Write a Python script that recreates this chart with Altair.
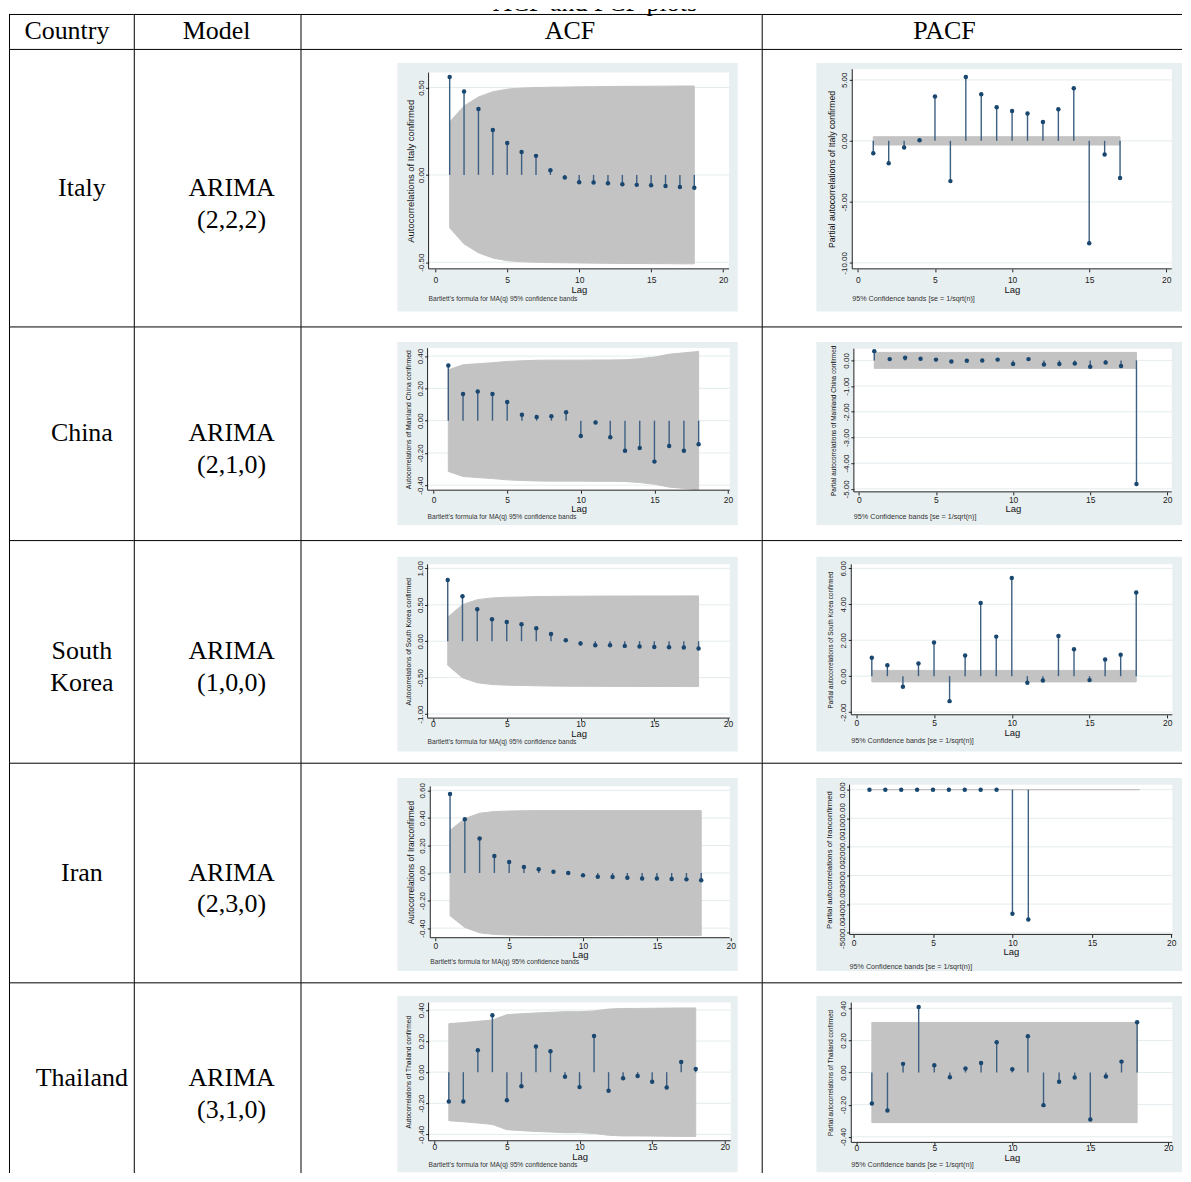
import altair as alt
import pandas as pd

# ---------------- table text ----------------
title_text = "ACF and PCF plots"
headers = ["Country", "Model", "ACF", "PACF"]
countries = ["Italy", "China", "South\nKorea", "Iran", "Thailand"]
models = ["ARIMA\n(2,2,2)", "ARIMA\n(2,1,0)", "ARIMA\n(1,0,0)", "ARIMA\n(2,3,0)", "ARIMA\n(3,1,0)"]

# ---------------- ACF data (lags 1..18) ----------------
lags = list(range(1, 19))
italy_acf = [0.56, 0.478, 0.377, 0.257, 0.183, 0.131, 0.109, 0.027, -0.015,
             -0.042, -0.044, -0.048, -0.053, -0.057, -0.059, -0.063, -0.069, -0.074]
italy_acf_band = [0.303, 0.395, 0.446, 0.476, 0.491, 0.497, 0.500, 0.502, 0.503,
                  0.504, 0.505, 0.506, 0.507, 0.507, 0.508, 0.508, 0.509, 0.509]
china_acf = [0.342, 0.165, 0.181, 0.165, 0.115, 0.037, 0.023, 0.027, 0.052,
             -0.095, -0.012, -0.103, -0.186, -0.169, -0.254, -0.157, -0.186, -0.146]
china_acf_band = [0.315, 0.346, 0.353, 0.359, 0.367, 0.371, 0.374, 0.375, 0.375,
                  0.375, 0.376, 0.376, 0.377, 0.384, 0.394, 0.412, 0.420, 0.429]
korea_acf = [0.84, 0.616, 0.438, 0.301, 0.265, 0.233, 0.178, 0.10, 0.014,
             -0.032, -0.055, -0.055, -0.064, -0.073, -0.078, -0.082, -0.087, -0.10]
korea_acf_band = [0.329, 0.502, 0.570, 0.594, 0.603, 0.607, 0.612, 0.615, 0.617,
                  0.618, 0.619, 0.620, 0.620, 0.621, 0.621, 0.621, 0.622, 0.622]
iran_acf = [0.573, 0.39, 0.25, 0.123, 0.08, 0.043, 0.027, 0.01, 0.0,
            -0.017, -0.027, -0.029, -0.034, -0.039, -0.039, -0.043, -0.046, -0.053]
iran_acf_band = [0.310, 0.395, 0.434, 0.446, 0.450, 0.452, 0.453, 0.453, 0.453,
                 0.453, 0.453, 0.453, 0.453, 0.453, 0.453, 0.453, 0.453, 0.453]
thai_acf = [-0.188, -0.188, 0.141, 0.366, -0.18, -0.09, 0.165, 0.135, -0.03,
            -0.096, 0.233, -0.12, -0.039, -0.024, -0.062, -0.098, 0.066, 0.021]
thai_acf_band = [0.312, 0.319, 0.327, 0.336, 0.370, 0.376, 0.381, 0.385, 0.389,
                 0.389, 0.394, 0.406, 0.410, 0.410, 0.411, 0.412, 0.413, 0.413]

# ---------------- PACF data ----------------
italy_pacf = [-1.01, -1.83, -0.55, 0.05, 3.63, -3.30, 5.24, 3.82, 2.75, 2.45,
              2.24, 1.55, 2.59, 4.31, -8.40, -1.12, -3.05]
china_pacf = [0.36, 0.05, 0.10, 0.06, 0.03, -0.04, -0.01, 0.0, 0.03, -0.14,
              0.05, -0.16, -0.14, -0.12, -0.25, -0.08, -0.22, -4.81]
korea_pacf = [1.02, 0.61, -0.59, 0.70, 1.87, -1.39, 1.15, 4.07, 2.20, 5.46,
              -0.37, -0.24, 2.24, 1.50, -0.22, 0.93, 1.19, 4.65]
iran_pacf = [0.0, 0.0, 0.0, 0.0, 0.0, 0.0, 0.0, 0.0, 0.0, -4337.0, -4535.0]
thai_pacf = [-0.193, -0.236, 0.054, 0.408, 0.046, -0.029, 0.025, 0.06, 0.189,
             0.021, 0.226, -0.203, -0.058, -0.031, -0.292, -0.025, 0.068, 0.313]
pacf_band_half = [0.34, 0.31, 0.32, 0.31, 0.312]
pacf_band_last = [17, 18, 18, 18, 18]

acf_values = [italy_acf, china_acf, korea_acf, iran_acf, thai_acf]
acf_bands = [italy_acf_band, china_acf_band, korea_acf_band, iran_acf_band, thai_acf_band]
pacf_values = [italy_pacf, china_pacf, korea_pacf, iran_pacf, thai_pacf]

acf_titles = ["Autocorrelations of Italy confirmed",
              "Autocorrelations of Mainland China confirmed",
              "Autocorrelations of South Korea confirmed",
              "Autocorrelations of Iranconfirmed",
              "Autocorrelations of Thailand confirmed"]
pacf_titles = ["Partial autocorrelations of Italy confirmed",
               "Partial autocorrelations of Mainland China confirmed",
               "Partial autocorrelations of South Korea confirmed",
               "Partial autocorrelations of Iranconfirmed",
               "Partial autocorrelations of Thailand confirmed"]
acf_yticks = [[-0.5, 0.0, 0.5],
              [-0.4, -0.2, 0.0, 0.2, 0.4],
              [-1.0, -0.5, 0.0, 0.5, 1.0],
              [-0.4, -0.2, 0.0, 0.2, 0.4, 0.6],
              [-0.4, -0.2, 0.0, 0.2, 0.4]]
pacf_yticks = [[-10.0, -5.0, 0.0, 5.0],
               [-5.0, -4.0, -3.0, -2.0, -1.0, 0.0],
               [-2.0, 0.0, 2.0, 4.0, 6.0],
               [-5000.0, -4000.0, -3000.0, -2000.0, -1000.0, 0.0],
               [-0.4, -0.2, 0.0, 0.2, 0.4]]
x_ticks = [0, 5, 10, 15, 20]
acf_note = "Bartlett's formula for MA(q) 95% confidence bands"
pacf_note = "95% Confidence bands [se = 1/sqrt(n)]"
lag_title = "Lag"

# ---------------- layout / style ----------------
SANS = "Liberation Sans"
SERIF = "Liberation Serif"
NAVY = "#1a476f"
STEM = "#3d5f82"
BAND = "#c3c3c3"
GRAPH_BG = "#e8eff1"
GRID = "#e4ecee"
INK = "#222222"

COLS = [8, 133, 300, 762, 1183]          # page x of column borders
ROWS = [8, 48, 326, 540, 763, 983, 1174]  # page y of row borders
HEADER_LINE = 13
header_cx = [66, 216, 570, 945]
cell_cx = [81, 231]

# per-graph geometry in page pixels (ACF, PACF for each row)
GEOM = [
    [dict(outer=(397, 738, 62, 311), plot=(428.3, 729.3, 71.7, 268.3), xmap=(435, 723.3),
          ymap=(0.5, 86.7, -0.5, 261.7), xlab=279, lag=289, foot=299, tfs=9.5, td=18.5),
     dict(outer=(816.7, 1183, 62, 311), plot=(852.7, 1172.7, 68.3, 268.3), xmap=(858.3, 1167.3),
          ymap=(5, 79, -10, 262.3), xlab=279, lag=289, foot=299, tfs=8.7, td=21)],
    [dict(outer=(397, 738, 341.7, 525), plot=(427.3, 730, 347.7, 490), xmap=(433.3, 728.3),
          ymap=(0.4, 355.7, -0.4, 485), xlab=499, lag=508.5, foot=516.5, tfs=6.9, td=19),
     dict(outer=(816.7, 1183, 341.7, 525), plot=(854.3, 1172.7, 348.3, 491.7), xmap=(859.3, 1168.3),
          ymap=(0, 360, -5, 488.7), xlab=499.5, lag=508.5, foot=516.7, tfs=6.5, td=20.5)],
    [dict(outer=(397, 738, 556.7, 751.7), plot=(427.3, 730, 564.3, 718.3), xmap=(432.7, 728.3),
          ymap=(1, 568.3, -1, 714.3), xlab=724, lag=733.5, foot=742, tfs=6.8, td=19),
     dict(outer=(816.7, 1183, 556.7, 751.7), plot=(851.7, 1173.3, 564.3, 715), xmap=(856.7, 1168.3),
          ymap=(6, 568.3, -2, 712.3), xlab=723, lag=732.5, foot=741, tfs=6.3, td=21)],
    [dict(outer=(397, 738, 778.3, 971.7), plot=(430, 730, 786.7, 938.3), xmap=(435, 731),
          ymap=(0.6, 790.7, -0.4, 928.7), xlab=946, lag=955, foot=963, tfs=8.4, td=20),
     dict(outer=(816.7, 1183, 778.3, 971.7), plot=(850, 1173.3, 785, 935), xmap=(854, 1172.3),
          ymap=(0, 790, -5000, 933.3), xlab=943.5, lag=952.5, foot=967.7, tfs=7.8, td=20)],
    [dict(outer=(397, 738, 996.7, 1173.3), plot=(428.3, 731, 1003.3, 1141.7), xmap=(434, 725),
          ymap=(0.4, 1010.7, -0.4, 1135.3), xlab=1147.5, lag=1157, foot=1165.5, tfs=6.6, td=20),
     dict(outer=(816.7, 1183, 996.7, 1173.3), plot=(851.7, 1173.3, 1003.3, 1143.3), xmap=(856.7, 1169.3),
          ymap=(0.4, 1009, -0.4, 1137.7), xlab=1148.5, lag=1158, foot=1166, tfs=6.3, td=21)],
]

MINUS_FIX = "replace(format(datum.value, '.2f'), '\u2212', '-')"


def one():
    return alt.Data(values=[{"k": 0}])


def borders(W, H, top):
    t = alt.Chart(one()).mark_rule(color="black", strokeWidth=1).encode(
        x=alt.value(0), x2=alt.value(W), y=alt.value(top))
    l = alt.Chart(one()).mark_rule(color="black", strokeWidth=1).encode(
        x=alt.value(0.5), y=alt.value(top - 0.5), y2=alt.value(H))
    return [t, l]


def header_cell(ci):
    x0, x1 = COLS[ci], COLS[ci + 1]
    y0, y1 = ROWS[0], ROWS[1]
    W, H = x1 - x0, y1 - y0
    layers = borders(W, H, HEADER_LINE - y0 + 0.5)
    df = pd.DataFrame({"label": [headers[ci]]})
    layers.append(alt.Chart(df).mark_text(font=SERIF, fontSize=26, align="center",
                                          baseline="alphabetic", color="black").encode(
        x=alt.value(header_cx[ci] - x0), y=alt.value(38 - y0), text="label:N"))
    if ci == 2:
        tdf = pd.DataFrame({"label": [title_text]})
        layers.append(alt.Chart(tdf).mark_text(font=SERIF, fontSize=26, align="center",
                                               baseline="alphabetic", color="black", clip=True).encode(
            x=alt.value(595 - x0), y=alt.value(2), text="label:N"))
    return alt.layer(*layers).properties(width=W, height=H)


def text_cell(ri, ci, label):
    x0, x1 = COLS[ci], COLS[ci + 1]
    y0, y1 = ROWS[ri], ROWS[ri + 1]
    W, H = x1 - x0, y1 - y0
    layers = borders(W, H, 0.5)
    df = pd.DataFrame({"label": [label]})
    layers.append(alt.Chart(df).mark_text(font=SERIF, fontSize=26, align="center", baseline="middle",
                                          lineBreak="\n", lineHeight=32, color="black").encode(
        x=alt.value(cell_cx[ci] - x0), y=alt.value(H / 2.0), text="label:N"))
    return alt.layer(*layers).properties(width=W, height=H)


def graph_cell(ri, ci, g, pts_df, band_df, yticks, ytitle, note, note_fs):
    x0c, x1c = COLS[ci], COLS[ci + 1]
    y0c, y1c = ROWS[ri], ROWS[ri + 1]
    W, H = x1c - x0c, y1c - y0c
    px0, px20 = g["xmap"]
    kx = (px20 - px0) / 20.0
    xdom = [(x0c - px0) / kx, (x1c - px0) / kx]
    v1, p1, v2, p2 = g["ymap"]
    ky = (p2 - p1) / (v2 - v1)
    ydom = [v1 + (y1c - p1) / ky, v1 + (y0c - p1) / ky]
    L, R = g["plot"][0] - x0c, g["plot"][1] - x0c
    T, B = g["plot"][2] - y0c, g["plot"][3] - y0c
    oL, oR = g["outer"][0] - x0c, min(g["outer"][1], x1c) - x0c
    oT, oB = g["outer"][2] - y0c, g["outer"][3] - y0c

    xs = alt.Scale(domain=xdom, nice=False, zero=False)
    ys = alt.Scale(domain=ydom, nice=False, zero=False)
    xaxis = alt.Axis(values=x_ticks, format="d", orient="bottom", offset=-(H - B), zindex=1,
                     domain=False, grid=False, ticks=True, tickSize=3, tickColor=INK, tickWidth=1,
                     labelFont=SANS, labelFontSize=8.5, labelColor=INK, labelBaseline="middle",
                     labelPadding=g["xlab"] - g["plot"][3] - 3, labelFlush=False, labelOverlap=False,
                     title=lag_title, titleFont=SANS, titleFontSize=9.5, titleFontWeight="normal",
                     titleColor="#111111", titleX=(L + R) / 2.0, titleY=g["lag"] - g["plot"][3],
                     titleBaseline="middle", titleAlign="center")
    yaxis = alt.Axis(values=yticks, labelExpr=MINUS_FIX, orient="left", offset=-L, zindex=1,
                     domain=False, grid=False, ticks=True, tickSize=3, tickColor=INK, tickWidth=1,
                     labelFont=SANS, labelFontSize=8, labelColor=INK, labelAngle=270,
                     labelAlign="center", labelBaseline="middle", labelPadding=4.5,
                     labelFlush=False, labelOverlap=False,
                     title=ytitle, titleFont=SANS, titleFontSize=g["tfs"], titleFontWeight="normal",
                     titleColor="#111111", titleAngle=270, titleX=-g["td"], titleY=(T + B) / 2.0,
                     titleBaseline="middle", titleAlign="center")
    X = alt.X("lag:Q", scale=xs, axis=xaxis)

    def Y(f):
        return alt.Y(f, scale=ys, axis=yaxis)

    layers = borders(W, H, 0.5)
    layers.append(alt.Chart(one()).mark_rect(color=GRAPH_BG).encode(
        x=alt.value(oL), x2=alt.value(oR), y=alt.value(oT), y2=alt.value(oB)))
    layers.append(alt.Chart(one()).mark_rect(color="white").encode(
        x=alt.value(L), x2=alt.value(R), y=alt.value(T), y2=alt.value(B)))
    grid_df = pd.DataFrame({"t": yticks})
    layers.append(alt.Chart(grid_df).mark_rule(color=GRID, strokeWidth=1).encode(
        y=Y("t:Q"), x=alt.value(L), x2=alt.value(R)))
    layers.append(alt.Chart(band_df).mark_area(color=BAND, stroke=BAND, strokeWidth=1, opacity=1).encode(
        x=X, y=Y("up:Q"), y2="lo:Q"))
    layers.append(alt.Chart(pts_df).mark_rule(color=STEM, strokeWidth=1.4).encode(
        x=X, y=Y("base:Q"), y2="value:Q"))
    layers.append(alt.Chart(pts_df).mark_circle(color=NAVY, size=20, opacity=1).encode(
        x=X, y=Y("value:Q")))
    layers.append(alt.Chart(one()).mark_rule(color=INK, strokeWidth=1).encode(
        x=alt.value(L), y=alt.value(T), y2=alt.value(B)))
    layers.append(alt.Chart(one()).mark_rule(color=INK, strokeWidth=1).encode(
        x=alt.value(L), x2=alt.value(R), y=alt.value(B)))
    ndf = pd.DataFrame({"label": [note]})
    layers.append(alt.Chart(ndf).mark_text(font=SANS, fontSize=note_fs, align="left", baseline="middle",
                                           color="#333333").encode(
        x=alt.value(L), y=alt.value(g["foot"] - y0c), text="label:N"))
    return alt.layer(*layers).properties(width=W, height=H)


cells = [header_cell(c) for c in range(4)]
for r in range(5):
    ri = r + 1
    cells.append(text_cell(ri, 0, countries[r]))
    cells.append(text_cell(ri, 1, models[r]))
    # ACF
    a_vals = acf_values[r]
    a_df = pd.DataFrame({"lag": lags[:len(a_vals)], "value": a_vals, "base": [0.0] * len(a_vals)})
    a_band = pd.DataFrame({"lag": lags, "up": acf_bands[r], "lo": [-v for v in acf_bands[r]]})
    cells.append(graph_cell(ri, 2, GEOM[r][0], a_df, a_band, acf_yticks[r], acf_titles[r], acf_note, 6.7))
    # PACF
    p_vals = pacf_values[r]
    p_df = pd.DataFrame({"lag": lags[:len(p_vals)], "value": p_vals, "base": [0.0] * len(p_vals)})
    h = pacf_band_half[r]
    p_band = pd.DataFrame({"lag": [1, pacf_band_last[r]], "up": [h, h], "lo": [-h, -h]})
    cells.append(graph_cell(ri, 3, GEOM[r][1], p_df, p_band, pacf_yticks[r], pacf_titles[r], pacf_note, 7.2))

chart = alt.concat(*cells, columns=4, spacing=0, bounds="flush").resolve_scale(
    x="independent", y="independent").properties(padding=0, background="white").configure_view(strokeWidth=0)

chart.save("out.html", embed_options={"renderer": "svg", "actions": False})
